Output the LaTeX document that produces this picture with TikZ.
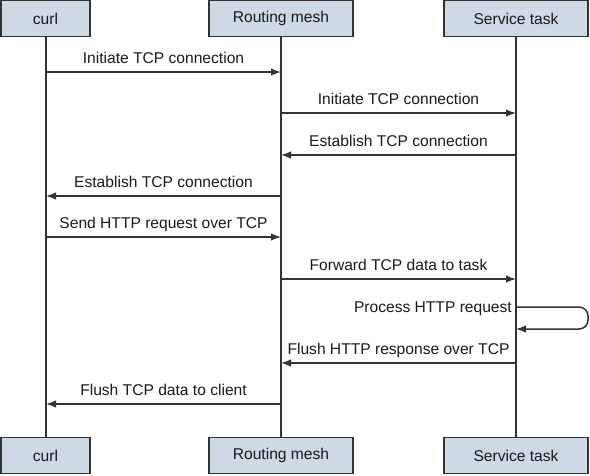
\documentclass[tikz,border=0pt]{standalone}
\usepackage{fontspec}
\setmainfont{Liberation Sans}
\usetikzlibrary{arrows.meta}
\definecolor{boxfill}{HTML}{CDD9E4}
\definecolor{linecol}{HTML}{333333}
\definecolor{txtcol}{HTML}{1A1A1A}
\tikzset{
  actor/.style={draw=linecol, line width=1.3pt, fill=boxfill, minimum height=36pt, inner sep=0pt, font=\fontsize{15.6}{18}\selectfont, text=txtcol},
  lifeline/.style={draw=linecol, line width=1.3pt},
  msgarrow/.style={draw=linecol, line width=1.5pt, -{Latex[length=10pt,width=7.5pt]}},
  msglabel/.style={font=\fontsize{15.6}{18}\selectfont, text=txtcol, inner sep=0pt, anchor=base}
}
\newcommand{\seqmsg}[5]{%
  \coordinate (#1s) at (#2 |- 0,#4);
  \coordinate (#1e) at (#3 |- 0,#4);
  \draw[msgarrow] (#1s) -- (#1e);
  \path (#1s) -- (#1e) node[msglabel, pos=0.5, yshift=9pt] (#1l) {#5};
}
\begin{document}
\begin{tikzpicture}[x=1pt,y=-1pt]
\useasboundingbox (0,0) rectangle (590,475);
% actors
\node[actor, minimum width=89pt] (curlT) at (45.5,18.5) {curl};
\node[actor, minimum width=144pt] (meshT) at (281,18.5) {Routing mesh};
\node[actor, minimum width=144pt] (taskT) at (516,18.5) {Service task};
\node[actor, minimum width=89pt] (curlB) at (45.5,455.5) {curl};
\node[actor, minimum width=144pt] (meshB) at (281,455.5) {Routing mesh};
\node[actor, minimum width=144pt] (taskB) at (516,455.5) {Service task};
% lifelines
\coordinate (cl) at (46,0);
\coordinate (ml) at (281,0);
\coordinate (tl) at (516,0);
\draw[lifeline] (cl |- curlT.south) -- (cl |- curlB.north);
\draw[lifeline] (ml |- meshT.south) -- (ml |- meshB.north);
\draw[lifeline] (tl |- taskT.south) -- (tl |- taskB.north);
% messages
\seqmsg{m1}{cl}{ml}{72}{Initiate TCP connection}
\seqmsg{m2}{ml}{tl}{113}{Initiate TCP connection}
\seqmsg{m3}{tl}{ml}{155}{Establish TCP connection}
\seqmsg{m4}{ml}{cl}{196}{Establish TCP connection}
\seqmsg{m5}{cl}{ml}{237}{Send HTTP request over TCP}
\seqmsg{m6}{ml}{tl}{279}{Forward TCP data to task}
% self loop
\coordinate (p1) at (tl |- 0,307);
\coordinate (p2) at (588,307);
\coordinate (p3) at (588,329);
\coordinate (p4) at (tl |- 0,329);
\draw[msgarrow, rounded corners=9pt] (p1) -- (p2) -- (p3) -- (p4);
\node[msglabel, anchor=base east] (m7l) at (512,312) {Process HTTP request};
\seqmsg{m8}{tl}{ml}{363}{Flush HTTP response over TCP}
\seqmsg{m9}{ml}{cl}{404}{Flush TCP data to client}
\end{tikzpicture}
\end{document}
